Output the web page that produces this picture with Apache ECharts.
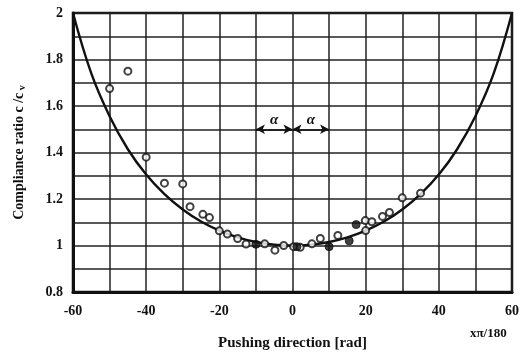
<!DOCTYPE html>
<html>
<head>
<meta charset="utf-8">
<script src="https://cdn.jsdelivr.net/npm/echarts@6/dist/echarts.min.js"></script>
<style>html,body{margin:0;padding:0;background:#fff}#c{width:524px;height:356px}</style>
</head>
<body>
<div id="c"></div>
<script>
// theoretical curve
var curveX = [-60,-55,-50,-45,-40,-35,-30,-25,-20,-15,-10,-5,0,5,10,15,20,25,30,35,40,45,50,55,60];
var curveY = [2.0,1.74,1.556,1.414,1.305,1.221,1.155,1.103,1.064,1.035,1.015,1.004,1.0,1.004,1.015,1.035,1.064,1.103,1.155,1.221,1.305,1.414,1.556,1.74,2.0];
// measured points (open circles)
var openX = [-50,-45,-40,-35,-30,-28,-24.5,-22.7,-20,-17.8,-15,-12.7,-7.6,-4.8,-2.4,0.3,2.1,5.3,7.6,12.4,19.9,20,21.7,24.6,26.5,30,35];
var openY = [1.675,1.75,1.38,1.268,1.265,1.167,1.134,1.12,1.063,1.049,1.03,1.006,1.007,0.98,1.0,0.995,0.992,1.007,1.03,1.043,1.107,1.064,1.102,1.125,1.142,1.205,1.225];
// measured points (filled)
var fillX = [-10,1.2,10,15.5,17.4];
var fillY = [1.005,0.995,0.995,1.02,1.09];
// alpha annotation
var alphaX = [-10,0,10];
var alphaY = 1.5;
var xTicks = [-60,-40,-20,0,20,40,60];
var yTicks = [0.8,1,1.2,1.4,1.6,1.8,2];

var ink = '#111';
var font = 'Liberation Serif';
function zip(a,b){return a.map(function(v,i){return [v,b[i]];});}

var chart = echarts.init(document.getElementById('c'));
chart.setOption({
  animation:false,
  backgroundColor:'#fff',
  grid:{left:73,right:12,top:13,bottom:63,show:true,borderColor:ink,borderWidth:2.5,backgroundColor:'transparent'},
  xAxis:{type:'value',min:-60,max:60,interval:10,
    name:'Pushing direction [rad]',nameLocation:'middle',nameGap:44,
    nameTextStyle:{color:ink,fontFamily:font,fontSize:15,fontWeight:'bold'},
    axisLine:{show:true,onZero:false,lineStyle:{color:ink,width:3}},
    axisTick:{show:false},
    splitLine:{show:true,lineStyle:{color:'#222',width:1.5,type:'solid'}},
    axisLabel:{color:ink,fontFamily:font,fontSize:14,fontWeight:'bold',margin:12,
      formatter:function(v){return xTicks.indexOf(Math.round(v))>=0?String(Math.round(v)):'';}}
  },
  yAxis:{type:'value',min:0.8,max:2,interval:0.1,
    name:'{n|Compliance ratio c /c}{s| v}',nameLocation:'middle',nameGap:46,nameRotate:90,
    nameTextStyle:{color:ink,fontFamily:font,fontSize:14,fontWeight:'bold',
      rich:{n:{color:ink,fontFamily:font,fontSize:14,fontWeight:'bold'},
            s:{color:ink,fontFamily:font,fontSize:10,fontWeight:'bold',verticalAlign:'bottom',padding:[6,0,0,0]}}},
    axisLine:{show:true,onZero:false,lineStyle:{color:ink,width:3}},
    axisTick:{show:false},
    splitLine:{show:true,lineStyle:{color:'#222',width:1.5,type:'solid'}},
    axisLabel:{color:ink,fontFamily:font,fontSize:14,fontWeight:'bold',margin:10,
      formatter:function(v){var r=Math.round(v*10)/10;return yTicks.some(function(t){return Math.abs(t-r)<1e-6;})?String(r):'';}}
  },
  series:[
    {type:'line',data:zip(curveX,curveY),smooth:0.4,showSymbol:false,symbol:'none',
     lineStyle:{color:ink,width:2.4},z:3,
     markLine:{silent:true,symbol:['arrow','arrow'],symbolSize:[7,9],
       lineStyle:{color:ink,width:1.6,type:'solid'},
       label:{show:true,position:'middle',formatter:'α',color:ink,fontFamily:font,fontSize:15,fontStyle:'italic',fontWeight:'bold',distance:2},
       data:[[{coord:[alphaX[0],alphaY]},{coord:[alphaX[1],alphaY]}],[{coord:[alphaX[1],alphaY]},{coord:[alphaX[2],alphaY]}]]}
    },
    {type:'scatter',data:zip(openX,openY),symbol:'circle',symbolSize:7,
     itemStyle:{color:'#fff',borderColor:ink,borderWidth:2},z:4},
    {type:'scatter',data:zip(fillX,fillY),symbol:'circle',symbolSize:8,
     itemStyle:{color:ink,borderColor:ink,borderWidth:1},z:5}
  ],
  graphic:[{type:'text',left:470,top:327,style:{text:'xπ/180',fill:ink,font:'bold 13px "Liberation Serif"'}}]
});
</script>
</body>
</html>
